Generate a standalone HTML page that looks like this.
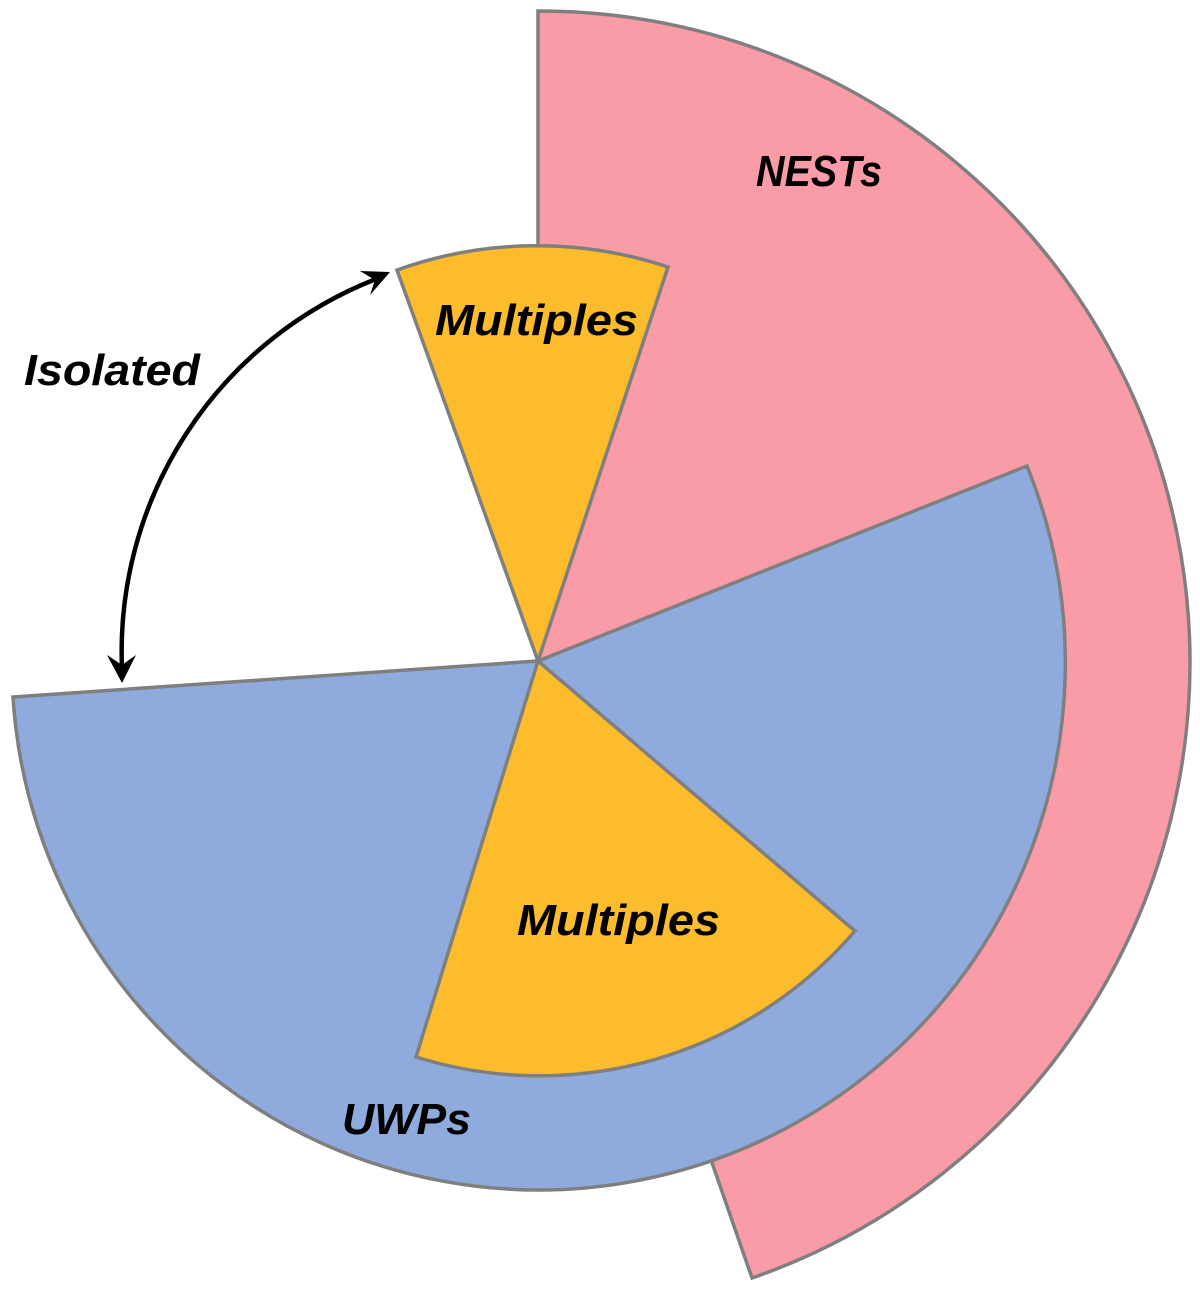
<!DOCTYPE html>
<html>
<head>
<meta charset="utf-8">
<style>
html,body{margin:0;padding:0;background:#fff;}
svg{display:block;}
text{font-family:"Liberation Sans",sans-serif;font-weight:bold;font-style:italic;fill:#000;}
</style>
</head>
<body>
<svg width="1200" height="1290" viewBox="0 0 1200 1290" xmlns="http://www.w3.org/2000/svg">
  <g stroke="#7f7f7f" stroke-width="3.5" stroke-linejoin="miter">
    <path d="M538 661 L538 11 A651.5 651.5 0 0 1 752 1278 Z" fill="#fa9ca8"/>
    <path d="M538 661 L1027 466 A526.7 526.7 0 1 1 13 697 Z" fill="#8faadc"/>
    <path d="M538 661 L397 270 A415 415 0 0 1 668 267 Z" fill="#fdbc2c"/>
    <path d="M538 661 L855 931 A416 416 0 0 1 416 1057 Z" fill="#fdbc2c"/>
  </g>
  <path d="M376 279 A400 400 0 0 0 122 668" fill="none" stroke="#000" stroke-width="4.5"/>
  <path d="M390 272 L360 271 L375 280 L370 295 Z" fill="#000"/>
  <path d="M122 683 L107 655 L122 665 L136 655 Z" fill="#000"/>
  <text x="435" y="335" font-size="44" textLength="203" lengthAdjust="spacingAndGlyphs">Multiples</text>
  <text x="517" y="935" font-size="44" textLength="203" lengthAdjust="spacingAndGlyphs">Multiples</text>
  <text x="756" y="186" font-size="44" textLength="126" lengthAdjust="spacingAndGlyphs">NESTs</text>
  <text x="342" y="1134" font-size="44" textLength="129" lengthAdjust="spacingAndGlyphs">UWPs</text>
  <text x="24" y="385" font-size="44" textLength="176" lengthAdjust="spacingAndGlyphs">Isolated</text>
</svg>
</body>
</html>
